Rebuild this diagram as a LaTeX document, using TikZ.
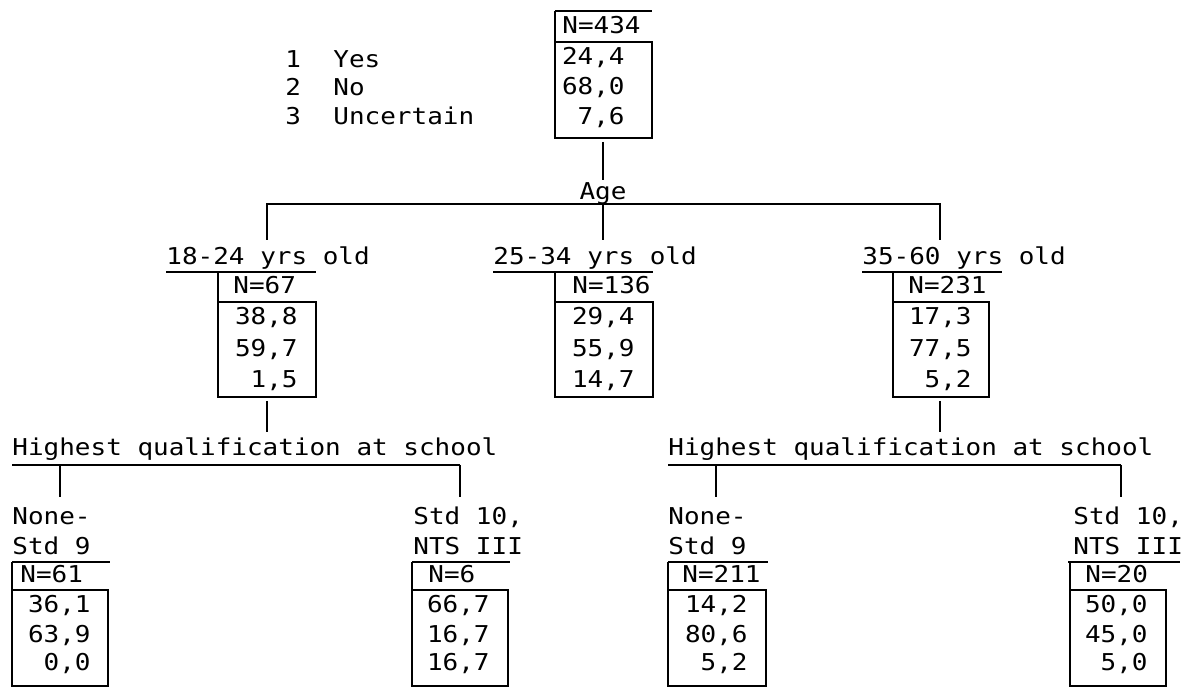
\documentclass[tikz,border=0pt]{standalone}
\usepackage{fontspec}
\newfontfamily\typer[FakeStretch=1.12]{DejaVu Sans Mono}
\usetikzlibrary{positioning}
\tikzset{
  txt/.style={font=\typer\fontsize{11.6pt}{13pt}\selectfont, inner sep=0pt, anchor=base west},
  val/.style={txt, anchor=base east},
  rule/.style={line width=1pt},
}

\begin{document}
\begin{tikzpicture}[x=0.5pt, y=-0.5pt]
    \useasboundingbox (0,0) rectangle (1195,689);

    % legend
    \node[txt] (k1) at (285,68) {1};
    \node[txt] (k2) at (285,96) {2};
    \node[txt] (k3) at (285,125) {3};
    \node[txt] (yes) at (333,68) {Yes};
    \node[txt] (no) at (333,96) {No};
    \node[txt] (unc) at (333,125) {Uncertain};

    % whole sample
    \draw[rule] (555,11) -- (652,11);
    \draw[rule] (555,11) -- (555,138) -- (652,138) -- (652,42) -- (555,42);
    \node[txt] (n434) at (562,34) {N=434};
    \node[val] (t1) at (625,65) {24,4};
    \node[val] (t2) at (625,95) {68,0};
    \node[val] (t3) at (625,125) {7,6};

    % age split
    \coordinate (topfoot) at (603,142);
    \coordinate (agehead) at (603,180);
    \draw[rule] (topfoot) -- (agehead);
    \node[txt, anchor=base] (age) at (603,200) {Age};
    \draw[rule] (267,240) -- (267,204) -- (940,204) -- (940,240);
    \draw[rule] (603,204) -- (603,240);

    \node[txt] (young) at (166,265) {18-24 yrs old};
    \node[txt] (mid) at (493,265) {25-34 yrs old};
    \node[txt] (old) at (862,265) {35-60 yrs old};

    % 18-24
    \draw[rule] (166,272) -- (316,272);
    \draw[rule] (218,272) -- (218,397) -- (316,397) -- (316,302) -- (218,302);
    \node[txt] (n67) at (233,294) {N=67};
    \node[val] (y1) at (298,325) {38,8};
    \node[val] (y2) at (298,357) {59,7};
    \node[val] (y3) at (298,388) {1,5};

    % 25-34
    \draw[rule] (493,272) -- (653,272);
    \draw[rule] (555,272) -- (555,397) -- (653,397) -- (653,302) -- (555,302);
    \node[txt] (n136) at (572,294) {N=136};
    \node[val] (m1) at (635,325) {29,4};
    \node[val] (m2) at (635,357) {55,9};
    \node[val] (m3) at (635,388) {14,7};

    % 35-60
    \draw[rule] (862,272) -- (1002,272);
    \draw[rule] (893,272) -- (893,397) -- (989,397) -- (989,302) -- (893,302);
    \node[txt] (n231) at (908,294) {N=231};
    \node[val] (o1) at (972,325) {17,3};
    \node[val] (o2) at (972,357) {77,5};
    \node[val] (o3) at (972,388) {5,2};

    % school split, young
    \draw[rule] (267,401) -- (267,432);
    \node[txt] (hq1) at (12,456) {Highest qualification at school};
    \draw[rule] (12,465) -- (460,465);
    \draw[rule] (60,465) -- (60,497);
    \draw[rule] (460,465) -- (460,497);

    % school split, old
    \draw[rule] (940,401) -- (940,432);
    \node[txt] (hq2) at (668,456) {Highest qualification at school};
    \draw[rule] (668,465) -- (1121,465);
    \draw[rule] (716,465) -- (716,497);
    \draw[rule] (1121,465) -- (1121,497);

    % young, low
    \node[txt] (lo1a) at (12,525) {None-};
    \node[txt] (lo1b) at (12,555) {Std 9};
    \draw[rule] (12,562) -- (110,562);
    \draw[rule] (12,562) -- (12,686) -- (108,686) -- (108,590) -- (12,590);
    \node[txt] (n61) at (20,583) {N=61};
    \node[val] (a1) at (91,613) {36,1};
    \node[val] (a2) at (91,642) {63,9};
    \node[val] (a3) at (91,670) {0,0};

    % young, high
    \node[txt] (hi1a) at (413,525) {Std 10,};
    \node[txt] (hi1b) at (413,555) {NTS III};
    \draw[rule] (412,562) -- (510,562);
    \draw[rule] (412,562) -- (412,686) -- (508,686) -- (508,590) -- (412,590);
    \node[txt] (n6) at (428,583) {N=6};
    \node[val] (b1) at (490,613) {66,7};
    \node[val] (b2) at (490,642) {16,7};
    \node[val] (b3) at (490,670) {16,7};

    % old, low
    \node[txt] (lo2a) at (668,525) {None-};
    \node[txt] (lo2b) at (668,555) {Std 9};
    \draw[rule] (668,562) -- (768,562);
    \draw[rule] (668,562) -- (668,686) -- (766,686) -- (766,590) -- (668,590);
    \node[txt] (n211) at (682,583) {N=211};
    \node[val] (c1) at (748,613) {14,2};
    \node[val] (c2) at (748,642) {80,6};
    \node[val] (c3) at (748,670) {5,2};

    % old, high
    \node[txt] (hi2a) at (1073,525) {Std 10,};
    \node[txt] (hi2b) at (1073,555) {NTS III};
    \draw[rule] (1068,562) -- (1180,562);
    \draw[rule] (1070,562) -- (1070,686) -- (1166,686) -- (1166,590) -- (1070,590);
    \node[txt] (n20) at (1085,583) {N=20};
    \node[val] (d1) at (1148,613) {50,0};
    \node[val] (d2) at (1148,642) {45,0};
    \node[val] (d3) at (1148,670) {5,0};
\end{tikzpicture}
\end{document}
